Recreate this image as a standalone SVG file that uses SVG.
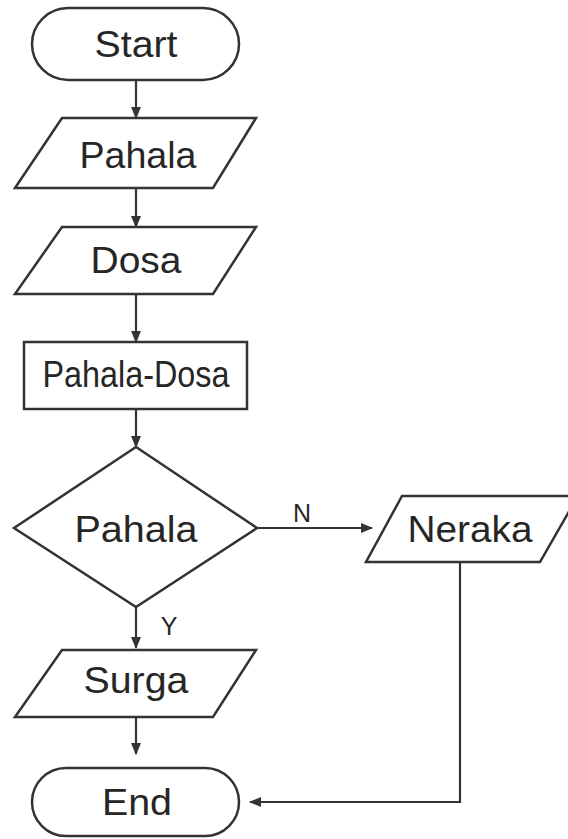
<svg xmlns="http://www.w3.org/2000/svg" width="568" height="839" viewBox="0 0 568 839">
  <style>
    .shape { fill: #ffffff; stroke: #333333; stroke-width: 2.5; stroke-linejoin: miter; }
    .label { font-family: "Liberation Sans", Arial, sans-serif; font-size: 36px; fill: #262626; text-anchor: middle; }
    .small { font-family: "Liberation Sans", Arial, sans-serif; font-size: 25px; fill: #262626; text-anchor: middle; }
    .flow { fill: none; stroke: #333333; stroke-width: 2.2; }
  </style>
  <defs>
    <marker id="arrow" markerUnits="userSpaceOnUse" markerWidth="12" markerHeight="10" refX="11" refY="5" orient="auto">
      <path d="M0,0 L12,5 L0,10 Z" fill="#333333"/>
    </marker>
  </defs>
  <rect width="568" height="839" fill="#ffffff"/>

  <g id="connectors">
    <line class="flow" x1="136" y1="80" x2="136" y2="118" marker-end="url(#arrow)"/>
    <line class="flow" x1="136" y1="188" x2="136" y2="227" marker-end="url(#arrow)"/>
    <line class="flow" x1="136" y1="294" x2="136" y2="342" marker-end="url(#arrow)"/>
    <line class="flow" x1="136" y1="409" x2="136" y2="447" marker-end="url(#arrow)"/>
    <line class="flow" x1="257" y1="528" x2="372" y2="528" marker-end="url(#arrow)"/>
    <line class="flow" x1="136" y1="607" x2="136" y2="648" marker-end="url(#arrow)"/>
    <line class="flow" x1="136" y1="717" x2="136" y2="754" marker-end="url(#arrow)"/>
    <polyline class="flow" points="460,562 460,802 250,802" marker-end="url(#arrow)"/>
    <text class="small" x="302" y="522">N</text>
    <text class="small" x="169" y="635">Y</text>
  </g>

  <g id="start">
    <rect class="shape" x="32" y="8" width="207" height="72" rx="36" ry="36"/>
    <text class="label" x="136" y="57" textLength="83" lengthAdjust="spacingAndGlyphs">Start</text>
  </g>

  <g id="input-pahala">
    <polygon class="shape" points="62,118 256,118 213,188 15,188"/>
    <text class="label" x="138" y="168" textLength="117" lengthAdjust="spacingAndGlyphs">Pahala</text>
  </g>

  <g id="input-dosa">
    <polygon class="shape" points="62,227 256,227 213,294 15,294"/>
    <text class="label" x="136" y="273" textLength="91" lengthAdjust="spacingAndGlyphs">Dosa</text>
  </g>

  <g id="process">
    <rect class="shape" x="24" y="342" width="223" height="67"/>
    <text class="label" x="136" y="387" textLength="187" lengthAdjust="spacingAndGlyphs">Pahala-Dosa</text>
  </g>

  <g id="decision">
    <polygon class="shape" points="136,447 257,528 136,607 14,528"/>
    <text class="label" x="136" y="542" textLength="123" lengthAdjust="spacingAndGlyphs">Pahala</text>
  </g>

  <g id="output-neraka">
    <polygon class="shape" points="402,496 578,496 540,562 366,562"/>
    <text class="label" x="470" y="542" textLength="125" lengthAdjust="spacingAndGlyphs">Neraka</text>
  </g>

  <g id="output-surga">
    <polygon class="shape" points="62,650 256,650 213,717 15,717"/>
    <text class="label" x="136" y="693" textLength="105" lengthAdjust="spacingAndGlyphs">Surga</text>
  </g>

  <g id="end">
    <rect class="shape" x="32" y="768" width="207" height="68" rx="34" ry="34"/>
    <text class="label" x="137" y="815" textLength="70" lengthAdjust="spacingAndGlyphs">End</text>
  </g>
</svg>
